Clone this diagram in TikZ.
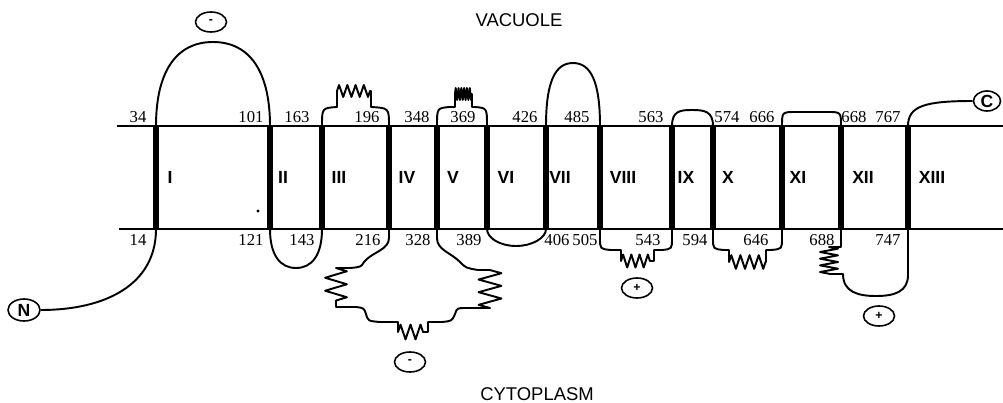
\documentclass[tikz,border=0pt]{standalone}
\usepackage{fontspec}
\setmainfont{Liberation Serif}
\setsansfont{Liberation Sans}
\usetikzlibrary{decorations.pathmorphing,shapes.geometric}

\tikzset{
  membrane/.style={line width=0.8pt},
  helix/.style={line width=3pt},
  strand/.style={line width=1.1pt,line join=round},
  charge/.style={draw,ellipse,line width=0.9pt,minimum width=0.62cm,minimum height=0.4cm,inner sep=0pt,font=\sffamily\bfseries\scriptsize},
  resnum/.style={font=\fontsize{9.5}{10}\selectfont},
  tmlabel/.style={font=\sffamily\bfseries\fontsize{10}{11}\selectfont},
  compartment/.style={font=\sffamily\fontsize{10.5}{12}\selectfont},
  zz/.style 2 args={decoration={zigzag,amplitude=#1,segment length=#2}}
}

\begin{document}
\begin{tikzpicture}[x=0.02cm,y=-0.02cm]
  \useasboundingbox (0,0) rectangle (1003,402);
  % membrane
  \draw[membrane] (117,126) -- (1003,126);
  \draw[membrane] (119,229) -- (1003,229);
  \node[compartment] (vacuole) at (519,20) {VACUOLE};
  \node[compartment] (cytoplasm) at (537,394) {CYTOPLASM};
  % helices I-XIII
  \foreach \i/\x/\r/\lx in {1/156/I/170, 2/270/II/283, 3/322/III/339, 4/389/IV/407,
      5/437/V/453, 6/487/VI/506, 7/546/VII/560, 8/600/VIII/623, 9/672/IX/686,
      10/713/X/728, 11/782/XI/798, 12/841/XII/863, 13/908/XIII/932} {
    \coordinate (t\i) at (\x,126);
    \coordinate (b\i) at (\x,229);
    \draw[helix] (t\i) -- (b\i);
    \node[tmlabel] (tm\i) at (\lx,177) {\r};
  }
  % residue numbers
  \foreach \n/\x in {34/138,101/251,163/297,196/367,348/417,369/463,426/525,
      485/577,563/651,574/727,666/762,668/854,767/888}
    \node[resnum] (r\n) at (\x,117) {\n};
  \foreach \n/\x in {14/138,121/251,143/302,216/368,328/418,389/469,406/557,
      505/585,543/648,594/695,646/756,688/822,747/888}
    \node[resnum] (r\n) at (\x,240) {\n};
  % termini and charges
  \node[charge,font=\sffamily\bfseries\normalsize,minimum width=0.64cm,minimum height=0.44cm] (nterm) at (24,310) {N};
  \node[charge,font=\sffamily\bfseries\normalsize,minimum width=0.54cm] (cterm) at (987,101) {C};
  \node[charge] (neg1) at (211,22) {-};
  \node[charge] (neg2) at (410,362) {-};
  \node[charge] (pos1) at (637,288) {+};
  \node[charge] (pos2) at (879,316) {+};
  \node[circle,fill,inner sep=0.7pt] (speck) at (258,211) {};
  % loops
  \draw[strand] (b1) .. controls (156,285) and (105,310) .. (nterm.east);
  \draw[strand] (t1) .. controls (156,72) and (176,42) .. (213,42)
    .. controls (250,42) and (270,72) .. (t2);
  \draw[strand] (b2) .. controls (270,255) and (280,268) .. (296,268)
    .. controls (312,268) and (322,255) .. (b3);
  \draw[strand] (t3) .. controls (322,108) .. (337,107) -- (337,91)
    decorate[zz={3.4pt}{4.7pt}]{-- (371,91)} -- (371,107) .. controls (389,108) .. (t4);
  \draw[strand] (b4) -- (389,238) .. controls (389,250) and (372,252) .. (364,262)
    .. controls (361,267) .. (350,268) -- (336,268)
    decorate[zz={6.2pt}{7.4pt}]{-- (336,307)} -- (356,307)
    .. controls (364,308) .. (366,314) .. controls (368,321) .. (380,322) -- (398,322) -- (398,332)
    decorate[zz={4.2pt}{5.7pt}]{-- (428,332)} -- (428,322) -- (442,322)
    .. controls (452,321) .. (455,314) .. controls (457,308) .. (466,308) -- (490,308)
    decorate[zz={6.5pt}{7.2pt}]{-- (490,270)} -- (478,270)
    .. controls (466,268) .. (460,262) .. controls (450,252) and (437,250) .. (437,238) -- (b5);
  \draw[strand] (t5) .. controls (437,108) .. (450,107) -- (455,107) -- (455,94)
    decorate[zz={3.4pt}{1.6pt}]{-- (472,94)} -- (472,107) -- (475,107) .. controls (487,108) .. (t6);
  \draw[strand] (b6) .. controls (487,238) and (500,246) .. (516,246)
    .. controls (532,246) and (546,238) .. (b7);
  \draw[strand] (t7) .. controls (546,82) and (555,63) .. (573,63)
    .. controls (591,63) and (600,82) .. (t8);
  \draw[strand] (b8) -- (600,238) .. controls (600,249) .. (611,250) -- (621,250) -- (621,261)
    decorate[zz={3.7pt}{4.7pt}]{-- (654,261)} -- (654,250) -- (662,250) .. controls (672,249) .. (672,238) -- (b9);
  \draw[strand] (t9) .. controls (672,111) and (680,110) .. (692,110)
    .. controls (704,110) and (713,111) .. (t10);
  \draw[strand] (b10) -- (713,238) .. controls (713,249) .. (724,250) -- (729,250) -- (729,262)
    decorate[zz={3.9pt}{5.2pt}]{-- (766,262)} -- (766,250) -- (771,250) .. controls (782,249) .. (782,238) -- (b11);
  \draw[strand] (t11) .. controls (782,112) .. (796,112) -- (827,112) .. controls (841,112) .. (t12);
  \draw[strand] (b12) -- (841,247) -- (829,247)
    decorate[zz={5.1pt}{3.8pt}]{-- (829,274)} -- (843,274)
    .. controls (843,292) and (858,296) .. (876,296) .. controls (894,296) and (908,292) .. (908,275) -- (b13);
  \draw[strand] (t13) .. controls (908,106) and (925,101) .. (cterm.west);
\end{tikzpicture}
\end{document}
